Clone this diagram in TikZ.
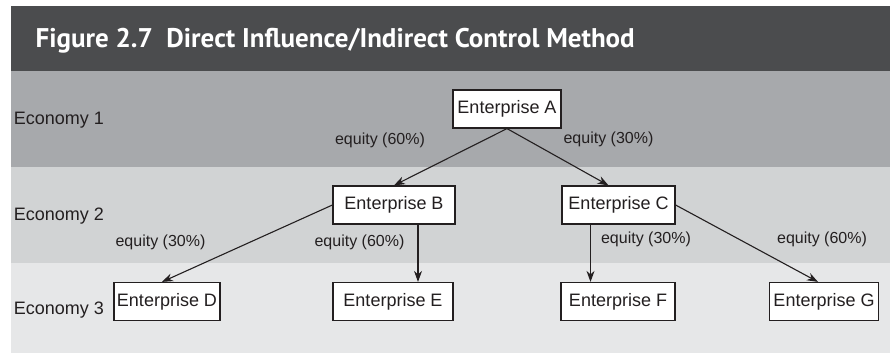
\documentclass[tikz,border=0pt]{standalone}
\usepackage{fontspec}
\setmainfont{Liberation Sans}
\newfontfamily\titlefont{PT Sans}
\usetikzlibrary{arrows.meta}

\definecolor{headgray}{HTML}{4B4C4E}
\definecolor{bandone}{HTML}{A7A9AC}
\definecolor{bandtwo}{HTML}{D1D3D4}
\definecolor{bandthree}{HTML}{E6E7E8}
\definecolor{inkgray}{HTML}{231F20}

\begin{document}
\begin{tikzpicture}[x=1pt,y=-1pt,->,>={Stealth[length=11pt,width=8pt,inset=3.5pt]},
  line width=1.1pt,draw=inkgray,text=inkgray,
  ent node/.style={rectangle,draw=inkgray,fill=white,line width=1.2pt,
  font=\fontsize{18}{20}\selectfont,inner xsep=3pt,minimum height=38pt},
  eco node/.style={anchor=base west,font=\fontsize{18}{20}\selectfont},
  share node/.style={font=\fontsize{16}{18}\selectfont}]

  \useasboundingbox (0,0) rectangle (890,355);

  % bands for the three economies
  \fill[headgray] (11,6) rectangle (890,71);
  \fill[bandone] (11,71) rectangle (890,167);
  \fill[bandtwo] (11,167) rectangle (890,263);
  \fill[bandthree] (11,263) rectangle (890,353);

  \node[anchor=base west,inner sep=0pt,text=white,font=\titlefont\bfseries\fontsize{27}{30}\selectfont]
    (title) at (35,48) {Figure 2.7\ \ Direct Influence/Indirect Control Method};

  \node[eco node] (E1) at (10,125) {Economy 1};
  \node[eco node] (E2) at (10,221) {Economy 2};
  \node[eco node] (E3) at (10,314) {Economy 3};

  \node[ent node,minimum width=108pt] (A) at (507,109) {Enterprise A};
  \node[ent node,minimum width=122pt] (B) at (394,205) {Enterprise B};
  \node[ent node,minimum width=113pt] (C) at (618.5,205) {Enterprise C};
  \node[ent node,minimum width=106pt] (D) at (167,301.5) {Enterprise D};
  \node[ent node,minimum width=120pt] (E) at (393,301.5) {Enterprise E};
  \node[ent node,minimum width=114pt] (F) at (618,301.5) {Enterprise F};
  \node[ent node,minimum width=109pt] (G) at (824,301.5) {Enterprise G};

  \node[share node] (sAB) at (380,140) {equity (60\%)};
  \node[share node] (sAC) at (608.5,139) {equity (30\%)};
  \node[share node] (sBD) at (160.5,242) {equity (30\%)};
  \node[share node] (sBE) at (359.5,242) {equity (60\%)};
  \node[share node] (sCF) at (646,239) {equity (30\%)};
  \node[share node] (sCG) at (822,239) {equity (60\%)};

  \path
    (A.south) edge (B.north)
    (A.south) edge ([xshift=-10pt]C.north)
    (B.west) edge ([xshift=-5pt]D.north)
    ([xshift=24pt]B.south) edge ([xshift=24pt]B.south |- E.north)
    ([xshift=-28pt]C.south) edge ([xshift=-28pt]C.south |- F.north)
    (C.east) edge ([xshift=-6pt]G.north);

\end{tikzpicture}
\end{document}
